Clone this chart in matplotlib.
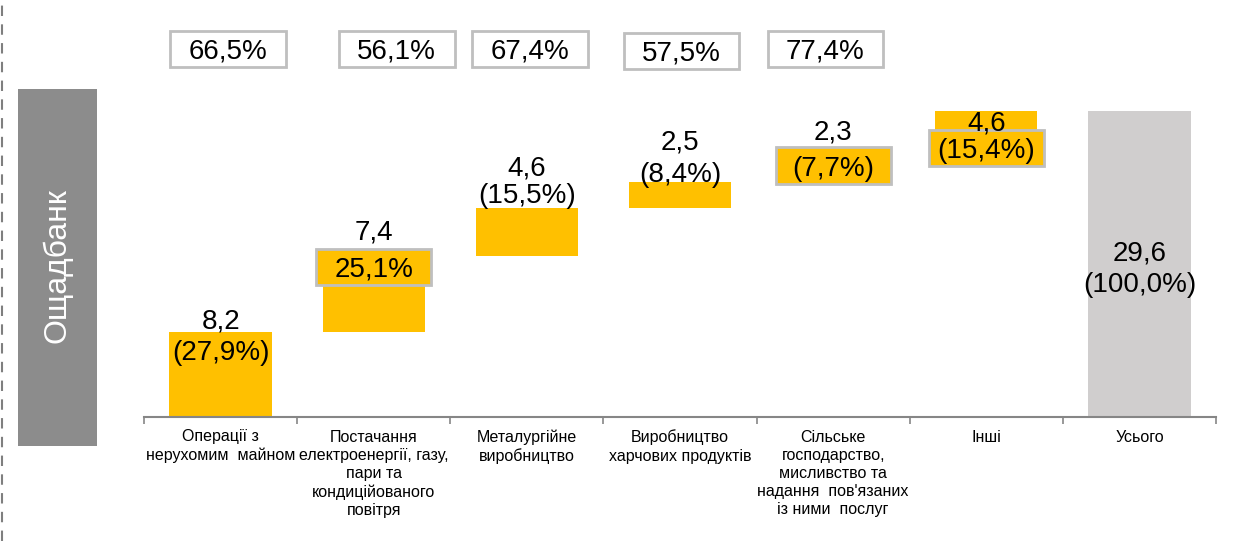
import numpy as np
import matplotlib
matplotlib.use("Agg")
import matplotlib.pyplot as plt
from matplotlib.patches import Rectangle
from matplotlib.lines import Line2D

plt.rcParams['font.family'] = ['Liberation Sans', 'DejaVu Sans']

categories = ["Операції з\nнерухомим  майном",
              "Постачання\nелектроенергії, газу,\nпари та\nкондиційованого\nповітря",
              "Металургійне\nвиробництво",
              "Виробництво\nхарчових продуктів",
              "Сільське\nгосподарство,\nмисливство та\nнадання  пов'язаних\nіз ними  послуг",
              "Інші",
              "Усього"]
values = [8.2, 7.4, 4.6, 2.5, 2.3, 4.6]
shares = [27.9, 25.1, 15.5, 8.4, 7.7, 15.4]
total = 29.6
total_share = 100.0
top_shares = [66.5, 56.1, 67.4, 57.5, 77.4]
bank = "Ощадбанк"

# layout (hand placed like in the slide)
boxed = [False, True, False, False, True, True, False]
val_dy = [1.37, 2.49, 4.17, 4.09, 2.76, -0.88, -13.45]
pct_dy = [-1.72, -1.09, 1.46, 0.99, -0.68, -3.58, -16.54]
top_dx = [0.05, 0.15, 0.02, 0.01, -0.05]
top_y = [35.6, 35.6, 35.6, 35.4, 35.6]

YELLOW = "#FFC000"
GREY = "#D0CECE"
EDGE = "#BFBFBF"
FS = 20


def fmt(v):
    return f"{v:.1f}".replace(".", ",")


fig = plt.figure(figsize=(12.41, 5.41), dpi=100)
ax = fig.add_axes([144 / 1241, 1 - 417 / 541, (1216 - 144) / 1241, 417 / 541])

x = np.arange(len(categories))
bottoms = np.concatenate([[0], np.cumsum(values)[:-1]])
ax.bar(x[:-1], values, bottom=bottoms, width=0.667, color=YELLOW, zorder=2)
ax.bar(x[-1], total, width=0.667, color=GREY, zorder=2)

tops = list(np.cumsum(values)) + [total]
vals = values + [total]
pcts = shares + [total_share]
for i in range(len(vals)):
    ax.text(x[i], tops[i] + val_dy[i], fmt(vals[i]), ha="center",
            va="center_baseline", fontsize=FS, zorder=5)
    if boxed[i]:
        ax.add_patch(Rectangle((x[i] - 0.375, tops[i] + pct_dy[i] - 1.75), 0.75, 3.5,
                               facecolor=YELLOW, edgecolor=EDGE, lw=2, zorder=4))
        label = fmt(pcts[i]) + "%" if i == 1 else "(" + fmt(pcts[i]) + "%)"
    else:
        label = "(" + fmt(pcts[i]) + "%)"
    ax.text(x[i], tops[i] + pct_dy[i], label, ha="center",
            va="center_baseline", fontsize=FS, zorder=5)

for i, s in enumerate(top_shares):
    cx = x[i] + top_dx[i]
    ax.add_patch(Rectangle((cx - 0.378, top_y[i] - 1.74), 0.756, 3.48,
                           facecolor="white", edgecolor=EDGE, lw=2, zorder=4,
                           clip_on=False))
    ax.text(cx, top_y[i], fmt(s) + "%", ha="center", va="center_baseline",
            fontsize=FS, zorder=5)

ax.set_xlim(-0.5, len(categories) - 0.5)
ax.set_ylim(0, 417 / 10.34)
for sp in ["top", "right", "left"]:
    ax.spines[sp].set_visible(False)
ax.spines["bottom"].set_color("#868686")
ax.spines["bottom"].set_linewidth(1.5)
ax.set_yticks([])
ax.set_xticks(np.arange(-0.5, len(categories)), labels=[""] * (len(categories) + 1))
ax.tick_params(axis="x", which="major", length=5, width=1.2, color="#868686")
ax.set_xticks(x, labels=categories, minor=True)
ax.tick_params(axis="x", which="minor", length=0, pad=9, labelsize=11.5)
for t in ax.get_xticklabels(minor=True):
    t.set_linespacing(1.27)
    t.set_verticalalignment("top")

# left side: dashed separator and bank name
fig.add_artist(Line2D([2 / 1241, 2 / 1241], [0, 1], color="#7F7F7F", lw=1.5,
                      dashes=(5, 4)))
fig.add_artist(Rectangle((18 / 1241, 1 - 446 / 541), 79 / 1241, 357 / 541,
                         facecolor="#8C8C8C", edgecolor="none"))
fig.text(57 / 1241, 1 - 266 / 541, bank, rotation=90, color="white",
         fontsize=23, ha="center", va="center")

fig.savefig("out.png", dpi=100)
